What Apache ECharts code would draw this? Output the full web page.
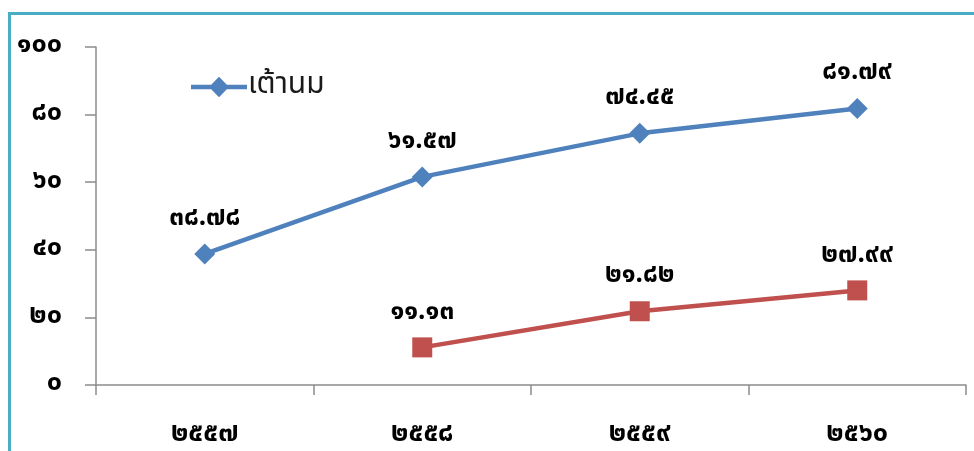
<!DOCTYPE html>
<html><head><meta charset="utf-8">
<script src="https://cdn.jsdelivr.net/npm/echarts@6/dist/echarts.min.js"></script>
<style>html,body{margin:0;padding:0;background:#fff}#c{width:974px;height:451px}</style>
</head><body><div id="c"></div>
<script>
var categories = ['๒๕๕๗', '๒๕๕๘', '๒๕๕๙', '๒๕๖๐'];
var breastValues = [38.78, 61.57, 74.45, 81.79];
var secondValues = [null, 11.13, 21.82, 27.99];
var seriesNames = ['เต้านม', 'ชุดที่ ๒'];
var yTickLabels = {0:'๐', 20:'๒๐', 40:'๔๐', 60:'๖๐', 80:'๘๐', 100:'๑๐๐'};

var thaiDigits = '๐๑๒๓๔๕๖๗๘๙';
function toThai(s){ return String(s).replace(/[0-9]/g, function(d){ return thaiDigits[+d]; }); }

var font = 'Tahoma, "Noto Sans Thai", "Noto Sans", "DejaVu Sans", sans-serif';
var chart = echarts.init(document.getElementById('c'));
chart.setOption({
  animation: false,
  backgroundColor: '#fff',
  graphic: [
    {type:'rect', shape:{x:8, y:12, width:966, height:3}, style:{fill:'#4bacc6'}},
    {type:'rect', shape:{x:8, y:12, width:3, height:439}, style:{fill:'#4bacc6'}}
  ],
  grid: {left: 96, right: 8, top: 47, bottom: 66, containLabel: false},
  legend: {
    data: [{name: seriesNames[0], icon: 'path://M0,8L56,8L56,12.5L0,12.5Z M28,0L38,10.25L28,20.5L18,10.25Z'}],
    left: 186, top: 67,
    itemWidth: 56, itemHeight: 21, itemGap: 4,
    itemStyle: {color: '#4f81bd'},
    textStyle: {fontFamily: font, fontSize: 30, color: '#1a1a1a', padding: [0,0,0,-4]}
  },
  xAxis: {
    type: 'category', data: categories, boundaryGap: true,
    axisLine: {lineStyle: {color: '#8c8c8c', width: 1.5}},
    axisTick: {show: true, length: 10, lineStyle: {color: '#8c8c8c', width: 1.5}},
    axisLabel: {fontFamily: font, fontSize: 27, fontWeight: 'bold', color: '#000', margin: 37}
  },
  yAxis: {
    type: 'value', min: 0, max: 100, interval: 20,
    axisLine: {show: true, lineStyle: {color: '#8c8c8c', width: 1.5}},
    axisTick: {show: true, length: 11, lineStyle: {color: '#8c8c8c', width: 1.5}},
    splitLine: {show: false},
    axisLabel: {fontFamily: font, fontSize: 27, fontWeight: 'bold', color: '#000', margin: 34,
      formatter: function(v){ return yTickLabels[v] !== undefined ? yTickLabels[v] : toThai(v); }}
  },
  series: [
    {
      name: seriesNames[0], type: 'line', data: breastValues,
      symbol: 'diamond', symbolSize: 21,
      itemStyle: {color: '#4f81bd'}, lineStyle: {color: '#4f81bd', width: 4.5},
      label: {show: true, position: 'top', distance: 11, fontFamily: font, fontSize: 26, fontWeight: 'bold', color: '#000',
        formatter: function(p){ return toThai(p.value.toFixed(2)); }}
    },
    {
      name: seriesNames[1], type: 'line', data: secondValues,
      symbol: 'rect', symbolSize: 20,
      itemStyle: {color: '#c0504d'}, lineStyle: {color: '#c0504d', width: 4.5},
      label: {show: true, position: 'top', distance: 11, fontFamily: font, fontSize: 26, fontWeight: 'bold', color: '#000',
        formatter: function(p){ return toThai(p.value.toFixed(2)); }}
    }
  ]
});
</script></body></html>
